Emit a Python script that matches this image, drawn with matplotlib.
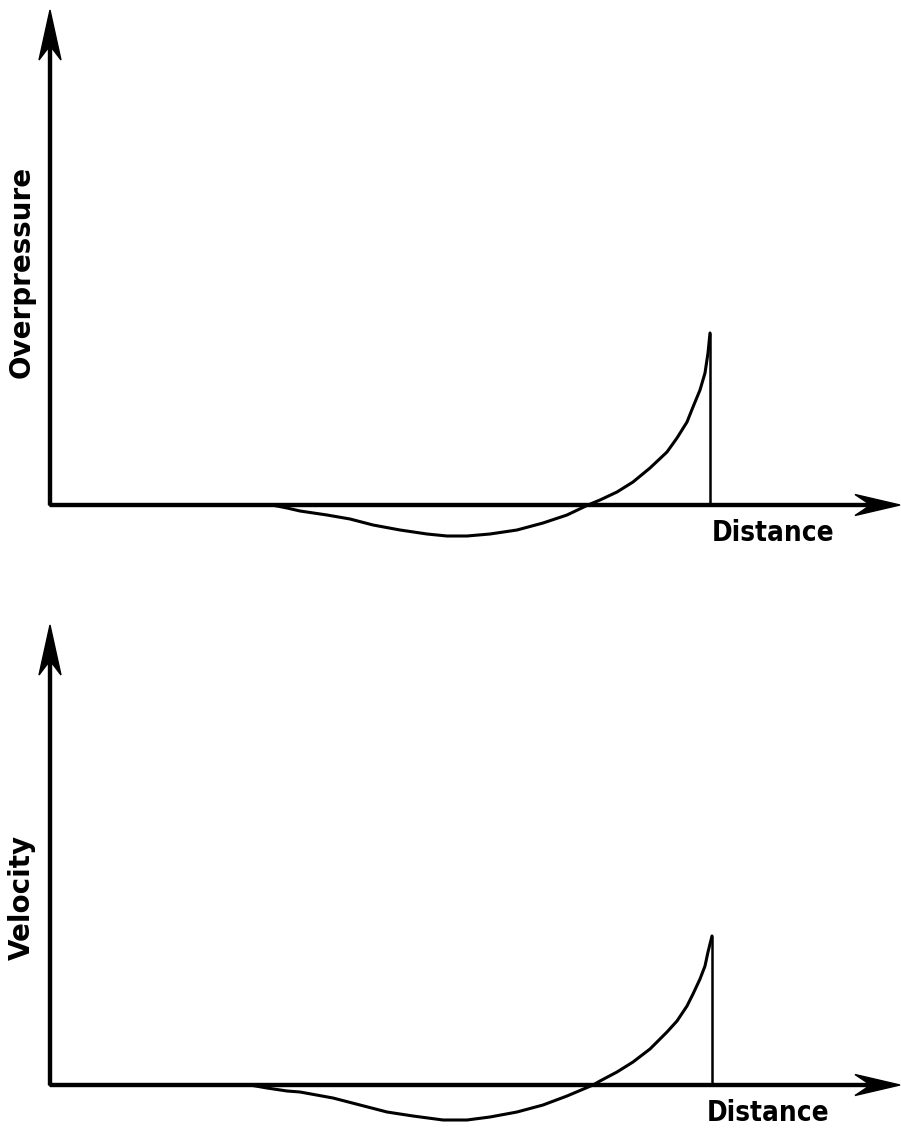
import matplotlib.pyplot as plt

# overpressure profile behind the shock front (distance, overpressure)
op_x = [22.2, 23.7, 25, 27.7, 30, 32.3, 35, 37.7, 39.7, 41.7, 44, 46.7, 49.3, 51.7, 53.8,
        55, 56.7, 58.3, 60, 61.7, 62.7, 63.7, 64.3, 65, 65.5, 65.8, 66]
op_y = [0, -0.3, -0.6, -1.0, -1.4, -2.0, -2.5, -2.9, -3.1, -3.1, -2.9, -2.5, -1.8, -1.0, 0,
        0.5, 1.3, 2.3, 3.7, 5.3, 6.7, 8.3, 9.8, 11.5, 13.2, 15.2, 17.2]

# particle velocity profile (distance, velocity)
vel_x = [20, 21.7, 23.7, 25, 28.3, 31, 33.7, 36.3, 39.3, 41.7, 44, 46.7, 49.3, 51.7, 54.3,
         55, 56.7, 58.3, 60, 61.7, 62.7, 63.7, 64.3, 65, 65.5, 65.8, 66.2]
vel_y = [0, -0.3, -0.6, -0.7, -1.3, -2.0, -2.7, -3.1, -3.5, -3.5, -3.2, -2.7, -2.0, -1.1, 0,
         0.4, 1.3, 2.3, 3.6, 5.3, 6.4, 7.9, 9.1, 10.6, 11.9, 13.3, 14.9]

panels = [
    ('Overpressure', op_x, op_y, 49.5, 23.3, 72.3),
    ('Velocity', vel_x, vel_y, 46.0, 18.8, 71.8),
]

fig = plt.figure(figsize=(9.01, 11.31), dpi=100)
ax_top = fig.add_axes([0, 1 - 560 / 1131, 1, 560 / 1131])
ax_bot = fig.add_axes([0, 0, 1, 551 / 1131])
ax_top.set_xlim(-5, 85.1)
ax_top.set_ylim(-5.5, 50.5)
ax_bot.set_xlim(-5, 85.1)
ax_bot.set_ylim(-4.6, 50.5)

for ax, (ylabel, xs, ys, ytop, ylab_pos, xlab_pos) in zip([ax_top, ax_bot], panels):
    ax.axis('off')

    # axes drawn as arrows
    ax.arrow(0, 0, 0, ytop, width=0.3, head_width=2.2, head_length=5.0,
             overhang=0.25, length_includes_head=True, color='black')
    ax.arrow(0, 0, 85, 0, width=0.3, head_width=2.1, head_length=4.5,
             overhang=0.3, length_includes_head=True, color='black')

    ax.plot(xs, ys, color='black', lw=2.2, solid_joinstyle='round',
            solid_capstyle='round')
    ax.vlines(xs[-1], 0, ys[-1], color='black', lw=1.8)

    ax.text(-2.8, ylab_pos, ylabel, rotation=90, ha='center', va='center',
            fontsize=20, fontweight='bold', family='DejaVu Sans')
    ax.text(xlab_pos, -2.8, 'Distance', ha='center', va='center',
            fontsize=20, fontweight='bold', fontstretch='condensed',
            family='DejaVu Sans')

fig.savefig('out.png', dpi=100)
